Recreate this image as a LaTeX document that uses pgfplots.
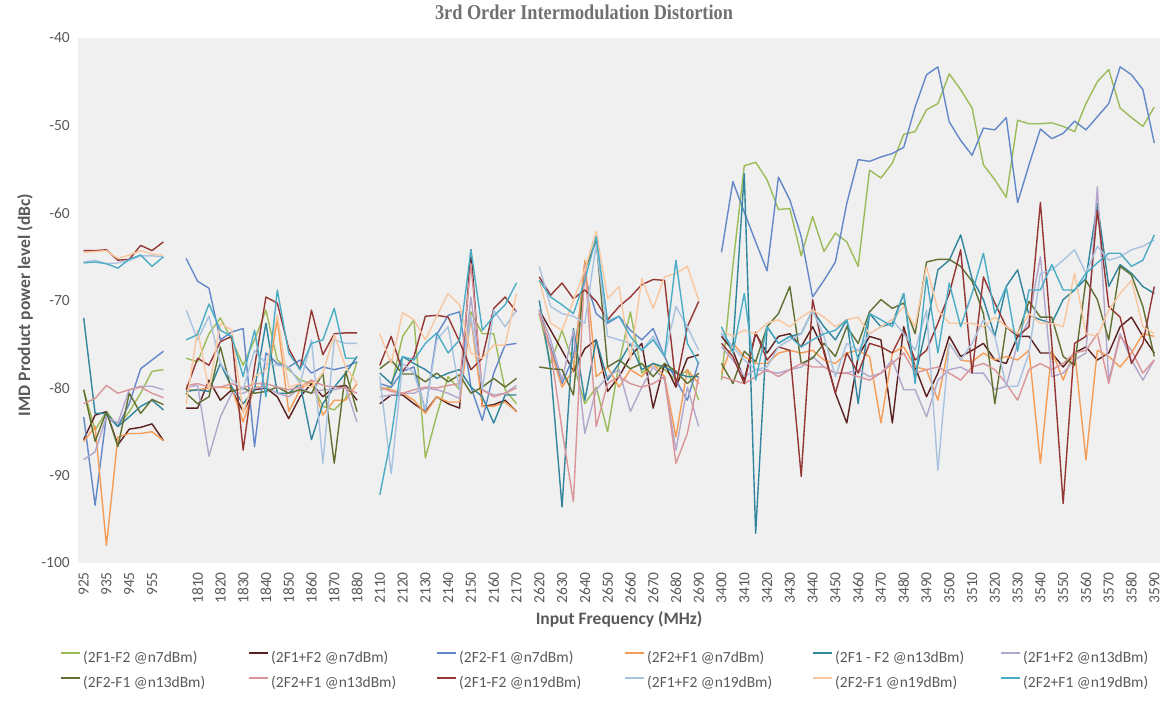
\documentclass[border=0pt]{standalone}
\usepackage{fontspec}
\setmainfont{Carlito}
\newfontfamily\titlefont[FakeStretch=0.87]{Liberation Serif}
\usepackage{pgfplots}
\usepackage{pgfplotstable}
\pgfplotsset{compat=1.18}
\definecolor{cA}{HTML}{9BBB59}
\definecolor{cB}{HTML}{5A1F1F}
\definecolor{cC}{HTML}{6388C8}
\definecolor{cD}{HTML}{F59D56}
\definecolor{cE}{HTML}{31859C}
\definecolor{cF}{HTML}{B4A7CC}
\definecolor{cG}{HTML}{5F7032}
\definecolor{cH}{HTML}{DA9499}
\definecolor{cI}{HTML}{943634}
\definecolor{cJ}{HTML}{A9C2E0}
\definecolor{cK}{HTML}{F9C79F}
\definecolor{cL}{HTML}{4BACC6}
\definecolor{bgc}{HTML}{F0F0F0}
\definecolor{tickc}{HTML}{595959}
\definecolor{titlec}{HTML}{707070}

% 95 categories (index 0..94), nan = gap between bands
\pgfplotstableread[row sep=\\]{y\\
-80.2\\-84.8\\-82.7\\-84.4\\-82.7\\-80.6\\-78.1\\-77.9\\ nan\\
-76.6\\-77.0\\-73.8\\-72.0\\-74.5\\-77.4\\-74.5\\-71.1\\-76.8\\-77.9\\-79.1\\-79.5\\-82.1\\-82.5\\-81.2\\-77.0\\ nan\\
-80.2\\-79.9\\-74.1\\-72.2\\-88.0\\-83.1\\-78.7\\-80.2\\-71.3\\-73.8\\-73.8\\-80.2\\-81.8\\ nan\\
-71.5\\-77.2\\-73.4\\-77.2\\-81.8\\-79.9\\-85.0\\-77.2\\-71.3\\-78.3\\-77.2\\-77.9\\-79.1\\-77.9\\-81.4\\ nan\\
-79.1\\-66.0\\-54.6\\-54.2\\-56.2\\-59.6\\-59.5\\-64.9\\-60.4\\-64.4\\-62.3\\-63.3\\-66.1\\-55.1\\-56.0\\-54.3\\-51.0\\-50.7\\-48.2\\-47.5\\-44.1\\-45.9\\-48.0\\-54.5\\-56.2\\-58.2\\-49.4\\-49.8\\-49.8\\-49.7\\-50.1\\-50.7\\-47.5\\-45.0\\-43.6\\-48.0\\-49.1\\-50.1\\-47.9\\
}\tA
\pgfplotstableread[row sep=\\]{y\\
-85.9\\-83.1\\-82.7\\-86.5\\-84.7\\-84.5\\-84.1\\-86.0\\ nan\\
-82.3\\-82.3\\-79.1\\-81.4\\-80.2\\-82.7\\-80.2\\-80.0\\-81.0\\-83.5\\-81.0\\-79.5\\-81.0\\-79.9\\-79.7\\-81.4\\ nan\\
-81.8\\-80.8\\-80.8\\-81.8\\-82.7\\-81.0\\-81.8\\-82.3\\-64.2\\-82.1\\-81.9\\-81.4\\-82.7\\ nan\\
-71.1\\-73.4\\-75.7\\-78.1\\-75.5\\-74.5\\-80.4\\-78.7\\-76.4\\-74.9\\-82.3\\-77.2\\-79.9\\-76.6\\-76.2\\ nan\\
-74.1\\-75.7\\-79.1\\-73.8\\-76.0\\-74.1\\-73.8\\-75.3\\-73.0\\-75.7\\-80.6\\-84.0\\-76.4\\-74.1\\-74.5\\-84.0\\-73.0\\-77.6\\-81.0\\-78.3\\-74.1\\-76.4\\-75.7\\-74.9\\-76.8\\-77.2\\-74.1\\-74.1\\-76.0\\-76.0\\-77.6\\-76.0\\-75.3\\-76.8\\-76.0\\-73.0\\-71.9\\-74.1\\-76.0\\
}\tB
\pgfplotstableread[row sep=\\]{y\\
-83.3\\-93.4\\-83.1\\-84.4\\-81.8\\-77.8\\-76.8\\-75.8\\ nan\\
-65.2\\-67.8\\-68.6\\-74.5\\-73.6\\-73.2\\-86.7\\-76.0\\-77.2\\-77.6\\-76.8\\-78.3\\-77.6\\-77.9\\-77.6\\-77.0\\ nan\\
-79.5\\-79.9\\-78.1\\-77.6\\-82.7\\-73.9\\-71.7\\-71.3\\-79.9\\-83.7\\-78.3\\-75.1\\-74.9\\ nan\\
-71.5\\-75.3\\-79.5\\-76.4\\-67.3\\-71.5\\-72.6\\-71.8\\-73.4\\-74.5\\-73.2\\-76.4\\-79.1\\-81.4\\-77.0\\ nan\\
-64.5\\-56.4\\-59.9\\-63.3\\-66.6\\-55.9\\-58.5\\-62.7\\-69.6\\-67.7\\-65.6\\-58.9\\-53.9\\-54.1\\-53.6\\-53.2\\-52.5\\-47.9\\-44.2\\-43.3\\-49.6\\-51.7\\-53.4\\-50.3\\-50.5\\-49.1\\-58.8\\-54.5\\-50.4\\-51.5\\-50.9\\-49.5\\-50.5\\-49.0\\-47.5\\-43.3\\-44.2\\-45.9\\-52.0\\
}\tC
\pgfplotstableread[row sep=\\]{y\\
-86.1\\-84.4\\-98.0\\-85.6\\-85.2\\-85.2\\-85.0\\-86.0\\ nan\\
-80.2\\-80.2\\-80.0\\-79.9\\-80.0\\-83.9\\-79.9\\-79.9\\-72.2\\-82.7\\-80.2\\-79.1\\-83.1\\-81.4\\-81.4\\-79.5\\ nan\\
-79.9\\-80.2\\-80.6\\-81.4\\-82.9\\-81.0\\-81.6\\-81.6\\-72.0\\-82.1\\-82.1\\-81.6\\-82.7\\ nan\\
-71.1\\-75.7\\-79.9\\-77.9\\-65.4\\-78.7\\-77.6\\-79.9\\-77.9\\-78.7\\-77.2\\-78.7\\-85.6\\-77.9\\-79.5\\ nan\\
-78.3\\-74.9\\-76.4\\-77.2\\-77.2\\-76.0\\-75.7\\-76.0\\-75.7\\-76.8\\-77.2\\-76.0\\-75.7\\-76.4\\-84.0\\-76.0\\-75.3\\-77.6\\-77.9\\-81.4\\-74.9\\-76.8\\-77.0\\-76.0\\-76.8\\-76.4\\-76.8\\-75.7\\-88.6\\-75.7\\-79.1\\-75.7\\-88.2\\-75.7\\-76.4\\-77.6\\-76.0\\-73.8\\-74.1\\
}\tD
\pgfplotstableread[row sep=\\]{y\\
-72.0\\-82.9\\-82.9\\-84.4\\-83.3\\-82.1\\-81.4\\-82.5\\ nan\\
-80.4\\-80.2\\-80.4\\-77.2\\-79.9\\-81.8\\-80.2\\-72.6\\-80.6\\-80.6\\-79.5\\-85.9\\-81.8\\-79.9\\-78.3\\-76.4\\ nan\\
-78.3\\-79.5\\-76.4\\-77.2\\-77.9\\-78.9\\-78.3\\-77.9\\-79.9\\-81.0\\-84.0\\-80.8\\-80.8\\ nan\\
-70.0\\-77.9\\-93.6\\-73.2\\-81.4\\-74.5\\-79.1\\-77.2\\-74.9\\-77.9\\-77.2\\-77.6\\-78.3\\-78.7\\-78.7\\ nan\\
-73.8\\-75.3\\-55.5\\-96.6\\-73.0\\-74.9\\-74.1\\-73.8\\-71.1\\-73.0\\-74.5\\-72.2\\-81.8\\-71.5\\-73.0\\-72.6\\-69.2\\-78.7\\-73.0\\-66.5\\-65.4\\-62.5\\-67.5\\-69.9\\-74.1\\-68.4\\-66.5\\-71.7\\-72.2\\-72.6\\-69.9\\-68.8\\-67.5\\-58.9\\-68.4\\-65.9\\-66.9\\-68.4\\-69.2\\
}\tE
\pgfplotstableread[row sep=\\]{y\\
-88.2\\-87.3\\-83.3\\-84.0\\-80.2\\-79.8\\-79.8\\-80.2\\ nan\\
-79.9\\-79.7\\-87.8\\-83.3\\-80.6\\-80.6\\-80.0\\-79.9\\-80.6\\-81.0\\-80.0\\-80.6\\-80.2\\-80.2\\-79.9\\-83.9\\ nan\\
-81.0\\-80.8\\-80.6\\-80.6\\-80.0\\-80.2\\-80.6\\-81.2\\-69.6\\-80.2\\-80.8\\-80.6\\-79.7\\ nan\\
-71.1\\-74.5\\-79.1\\-73.4\\-85.2\\-80.2\\-78.7\\-77.9\\-82.7\\-79.9\\-77.6\\-79.1\\-87.1\\-79.9\\-84.4\\ nan\\
-75.3\\-76.8\\-78.7\\-77.9\\-78.1\\-78.3\\-77.9\\-77.6\\-76.4\\-77.6\\-78.3\\-78.3\\-77.9\\-78.7\\-78.3\\-76.8\\-80.2\\-80.2\\-83.3\\-79.1\\-77.9\\-77.6\\-78.3\\-78.3\\-80.2\\-79.8\\-74.9\\-72.2\\-65.0\\-78.7\\-78.3\\-76.8\\-76.0\\-57.0\\-79.1\\-73.8\\-76.8\\-79.1\\-76.8\\
}\tF
\pgfplotstableread[row sep=\\]{y\\
-80.2\\-86.1\\-82.7\\-86.7\\-80.6\\-82.9\\-81.3\\-81.9\\ nan\\
-80.6\\-81.8\\-81.0\\-75.3\\-80.4\\-80.0\\-80.6\\-80.4\\-79.9\\-80.6\\-80.2\\-80.6\\-78.3\\-88.6\\-78.1\\-82.7\\ nan\\
-77.8\\-76.8\\-78.4\\-78.4\\-79.3\\-78.3\\-79.3\\-78.5\\-80.6\\-79.9\\-78.9\\-79.9\\-78.9\\ nan\\
-77.6\\-77.8\\-77.9\\-80.8\\-66.5\\-63.1\\-77.6\\-76.8\\-77.8\\-77.2\\-78.7\\-77.2\\-78.1\\-79.5\\-78.3\\ nan\\
-77.2\\-79.5\\-75.8\\-77.0\\-73.0\\-71.5\\-68.4\\-77.2\\-76.6\\-74.9\\-76.4\\-73.0\\-74.9\\-71.3\\-69.9\\-70.9\\-70.3\\-73.8\\-65.6\\-65.3\\-65.3\\-66.1\\-67.8\\-71.5\\-81.8\\-73.0\\-73.9\\-70.1\\-71.9\\-71.9\\-76.4\\-77.4\\-67.7\\-69.9\\-74.5\\-66.1\\-67.1\\-70.7\\-76.4\\
}\tG
\pgfplotstableread[row sep=\\]{y\\
-81.8\\-81.2\\-79.7\\-80.6\\-80.2\\-79.9\\-80.6\\-81.1\\ nan\\
-79.7\\-79.5\\-79.9\\-79.9\\-79.5\\-80.0\\-79.5\\-79.5\\-79.9\\-80.2\\-79.9\\-79.1\\-79.7\\-79.9\\-80.0\\-80.6\\ nan\\
-79.9\\-80.4\\-80.6\\-80.2\\-79.9\\-80.0\\-79.7\\-79.5\\-65.8\\-80.2\\-81.0\\-80.6\\-80.0\\ nan\\
-71.5\\-75.7\\-84.8\\-93.0\\-65.8\\-84.4\\-79.5\\-78.7\\-79.5\\-79.9\\-79.5\\-78.7\\-88.6\\-85.2\\-78.7\\ nan\\
-78.7\\-79.1\\-79.5\\-78.7\\-77.9\\-78.7\\-77.9\\-77.2\\-77.6\\-77.6\\-78.3\\-78.3\\-78.7\\-79.1\\-78.3\\-77.2\\-76.0\\-78.3\\-77.9\\-77.6\\-78.3\\-79.1\\-77.6\\-77.2\\-77.9\\-79.5\\-81.4\\-77.9\\-77.2\\-77.9\\-77.2\\-76.0\\-75.7\\-73.8\\-79.5\\-74.1\\-75.7\\-78.3\\-76.8\\
}\tH
\pgfplotstableread[row sep=\\]{y\\
-64.3\\-64.3\\-64.2\\-65.4\\-65.3\\-63.7\\-64.3\\-63.3\\ nan\\
-80.2\\-76.6\\-77.4\\-74.7\\-74.1\\-87.1\\-77.6\\-69.6\\-70.3\\-75.5\\-77.9\\-71.1\\-76.2\\-73.8\\-73.7\\-73.7\\ nan\\
-77.4\\-74.1\\-78.1\\-76.4\\-71.8\\-71.7\\-71.9\\-74.7\\-77.9\\-76.6\\-70.9\\-69.6\\-71.3\\ nan\\
-67.3\\-69.4\\-68.0\\-69.8\\-68.8\\-70.1\\-72.2\\-70.7\\-69.6\\-68.2\\-67.6\\-67.7\\-79.7\\-73.0\\-70.1\\ nan\\
-74.9\\-76.4\\-79.5\\-73.6\\-76.8\\-75.3\\-75.7\\-90.1\\-69.9\\-76.0\\-80.6\\-76.0\\-78.3\\-74.9\\-75.3\\-76.0\\-73.4\\-76.8\\-75.7\\-72.6\\-69.2\\-64.2\\-78.3\\-67.3\\-70.3\\-73.0\\-74.1\\-73.0\\-58.8\\-74.9\\-93.2\\-74.9\\-74.1\\-59.7\\-70.7\\-71.9\\-77.2\\-74.9\\-68.4\\
}\tI
\pgfplotstableread[row sep=\\]{y\\
-65.6\\-65.4\\-65.8\\-65.7\\-65.4\\-64.9\\-64.9\\-65.0\\ nan\\
-71.1\\-74.5\\-71.8\\-77.2\\-79.1\\-80.2\\-75.7\\-77.2\\-77.4\\-77.6\\-79.5\\-74.5\\-88.6\\-74.5\\-74.9\\-74.9\\ nan\\
-78.7\\-89.8\\-77.2\\-78.3\\-82.5\\-74.5\\-73.0\\-80.2\\-71.8\\-80.2\\-71.1\\-73.0\\-71.1\\ nan\\
-66.1\\-70.7\\-71.5\\-71.8\\-72.6\\-63.5\\-74.1\\-74.5\\-74.9\\-75.7\\-74.1\\-76.4\\-70.7\\-73.0\\-75.7\\ nan\\
-73.8\\-75.3\\-76.8\\-77.9\\-77.6\\-75.3\\-74.5\\-73.8\\-71.1\\-74.1\\-78.7\\-74.9\\-75.7\\-73.8\\-73.0\\-72.2\\-73.8\\-75.7\\-71.1\\-89.4\\-74.9\\-76.8\\-74.9\\-72.2\\-74.1\\-79.8\\-79.8\\-76.0\\-66.9\\-66.5\\-65.4\\-64.2\\-66.9\\-63.8\\-65.4\\-65.0\\-64.2\\-63.8\\-63.1\\
}\tJ
\pgfplotstableread[row sep=\\]{y\\
-64.5\\-64.4\\-64.3\\-65.2\\-64.8\\-64.3\\-64.7\\-64.8\\ nan\\
-81.8\\-73.4\\-80.2\\-72.6\\-73.4\\-82.9\\-78.7\\-77.9\\-71.7\\-79.9\\-79.5\\-79.9\\-78.3\\-73.9\\-77.6\\-79.5\\ nan\\
-73.8\\-77.2\\-71.4\\-72.2\\-74.5\\-71.8\\-69.2\\-70.5\\-76.0\\-76.6\\-75.1\\-75.1\\-69.2\\ nan\\
-67.7\\-72.6\\-73.4\\-70.0\\-66.5\\-62.1\\-69.8\\-68.4\\-76.8\\-67.5\\-70.9\\-67.3\\-66.9\\-66.1\\-70.0\\ nan\\
-73.4\\-74.1\\-73.4\\-73.8\\-72.6\\-72.2\\-73.0\\-71.9\\-71.1\\-71.9\\-73.0\\-72.2\\-71.9\\-73.8\\-73.0\\-72.2\\-70.7\\-73.0\\-66.1\\-71.1\\-72.6\\-72.6\\-72.6\\-73.0\\-71.9\\-73.0\\-73.8\\-71.5\\-72.6\\-72.6\\-73.0\\-66.9\\-73.8\\-74.1\\-71.1\\-69.2\\-67.7\\-73.0\\-73.8\\
}\tK
\pgfplotstableread[row sep=\\]{y\\
-65.7\\-65.6\\-65.8\\-66.3\\-65.3\\-64.8\\-66.1\\-65.0\\ nan\\
-74.5\\-73.9\\-70.4\\-73.4\\-74.1\\-78.7\\-73.4\\-81.0\\-68.8\\-76.0\\-77.9\\-74.9\\-74.5\\-70.9\\-76.6\\-76.6\\ nan\\
-92.2\\-85.6\\-76.4\\-76.8\\-74.9\\-73.7\\-76.0\\-74.5\\-64.2\\-73.4\\-71.8\\-70.5\\-68.0\\ nan\\
-67.7\\-69.6\\-70.5\\-71.5\\-67.7\\-62.7\\-72.4\\-71.8\\-74.1\\-75.7\\-74.5\\-76.4\\-65.4\\-74.9\\-77.2\\ nan\\
-73.0\\-76.0\\-69.2\\-79.1\\-73.0\\-74.9\\-74.1\\-75.3\\-74.5\\-73.8\\-73.4\\-72.2\\-76.8\\-71.5\\-72.2\\-73.0\\-69.2\\-79.5\\-67.3\\-76.0\\-68.0\\-73.0\\-69.2\\-64.6\\-71.5\\-68.4\\-75.8\\-68.8\\-68.8\\-65.9\\-68.8\\-68.8\\-66.9\\-65.7\\-64.6\\-64.6\\-66.1\\-65.4\\-62.5\\
}\tL

\newcommand{\legbox}[1]{\makebox[165pt][l]{#1}}

\begin{document}
\begin{tikzpicture}[x=1pt,y=1pt]
\path[use as bounding box] (0,0) rectangle (1170,709);
\begin{axis}[
  at={(78pt,146pt)}, anchor=south west,
  scale only axis, width=1082pt, height=525pt,
  xmin=-0.5, xmax=94.5, ymin=-100, ymax=-40,
  unbounded coords=jump,
  axis line style={draw=none},
  major tick length=0pt,
  axis background/.style={fill=bgc},
  ytick={-100,-90,...,-40},
  xtick={0,2,...,94},
  xticklabels={925,935,945,955,{},1810,1820,1830,1840,1850,1860,1870,1880,2110,2120,2130,2140,2150,2160,2170,2620,2630,2640,2650,2660,2670,2680,2690,3400,3410,3420,3430,3440,3450,3460,3470,3480,3490,3500,3510,3520,3530,3540,3550,3560,3570,3580,3590},
  /pgf/number format/assume math mode=true,
  ticklabel style={font=\fontsize{15.5}{18}\selectfont, text=tickc},
  xticklabel style={rotate=90, anchor=east, inner xsep=9pt, inner ysep=0pt},
  yticklabel style={anchor=east, inner xsep=8pt},
  every axis plot/.append style={line width=1.4pt, line join=round},
  legend columns=6,
  legend cell align=left,
  legend image code/.code={\draw[#1, line width=2pt] (0pt,4.5pt) -- (19pt,4.5pt);},
  legend style={at={(axis description cs:0,0)}, anchor=north west, xshift=-18pt, yshift=-88pt,
    draw=none, fill=none, inner sep=0pt, font=\fontsize{15.5}{18}\selectfont, text=tickc,
    row sep=12pt, column sep=0pt, nodes={inner sep=0pt},
    /tikz/every odd column/.append style={column sep=2pt}},
]
\addplot[cA] table[x expr=\coordindex, y=y]{\tA}; \addlegendentry{\legbox{(2F1-F2 @n7dBm)}}
\addplot[cB] table[x expr=\coordindex, y=y]{\tB}; \addlegendentry{\legbox{(2F1+F2 @n7dBm)}}
\addplot[cC] table[x expr=\coordindex, y=y]{\tC}; \addlegendentry{\legbox{(2F2-F1 @n7dBm)}}
\addplot[cD] table[x expr=\coordindex, y=y]{\tD}; \addlegendentry{\legbox{(2F2+F1 @n7dBm)}}
\addplot[cE] table[x expr=\coordindex, y=y]{\tE}; \addlegendentry{\legbox{(2F1 - F2 @n13dBm)}}
\addplot[cF] table[x expr=\coordindex, y=y]{\tF}; \addlegendentry{\legbox{(2F1+F2 @n13dBm)}}
\addplot[cG] table[x expr=\coordindex, y=y]{\tG}; \addlegendentry{\legbox{(2F2-F1 @n13dBm)}}
\addplot[cH] table[x expr=\coordindex, y=y]{\tH}; \addlegendentry{\legbox{(2F2+F1 @n13dBm)}}
\addplot[cI] table[x expr=\coordindex, y=y]{\tI}; \addlegendentry{\legbox{(2F1-F2 @n19dBm)}}
\addplot[cJ] table[x expr=\coordindex, y=y]{\tJ}; \addlegendentry{\legbox{(2F1+F2 @n19dBm)}}
\addplot[cK] table[x expr=\coordindex, y=y]{\tK}; \addlegendentry{\legbox{(2F2-F1 @n19dBm)}}
\addplot[cL] table[x expr=\coordindex, y=y]{\tL}; \addlegendentry{\legbox{(2F2+F1 @n19dBm)}}
\end{axis}
\node[font=\titlefont\bfseries\fontsize{21}{23}\selectfont, text=titlec] at (584,697) {3rd Order Intermodulation Distortion};
\node[font=\bfseries\fontsize{17.5}{20}\selectfont, text=tickc] at (619,90) {Input Frequency (MHz)};
\node[font=\bfseries\fontsize{17.5}{20}\selectfont, text=tickc, rotate=90] at (25,404) {IMD Product power level (dBc)};
\end{tikzpicture}
\end{document}
